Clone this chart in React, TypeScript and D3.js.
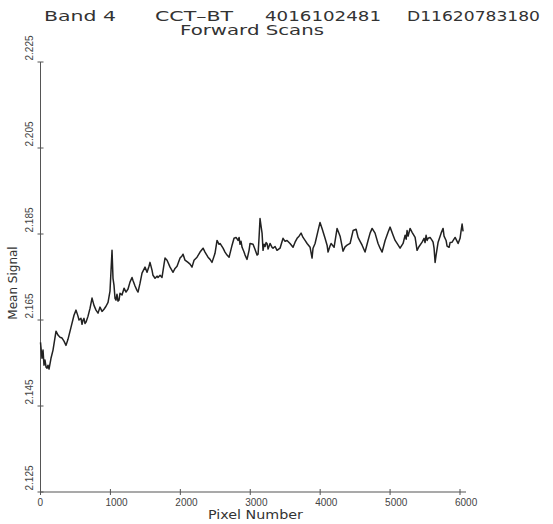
import React from 'react';
import * as d3 from 'd3';

const pixelNumber = [
  0, 21, 36, 50, 64, 80, 93, 107, 122, 150, 179, 222, 250, 279, 308, 336, 365, 393, 436, 479,
  508, 536, 551, 579, 594, 608, 622, 636, 651, 680, 708, 737, 765, 794, 823, 851, 880, 908, 937, 966,
  994, 1009, 1023, 1037, 1051, 1066, 1080, 1094, 1108, 1123, 1137, 1152, 1166, 1195, 1223, 1252, 1280, 1309, 1323, 1352,
  1380, 1395, 1423, 1452, 1495, 1524, 1552, 1566, 1595, 1609, 1638, 1667, 1681, 1710, 1738, 1767, 1781, 1810, 1853, 1896,
  1924, 1953, 1996, 2024, 2039, 2067, 2110, 2139, 2167, 2196, 2239, 2282, 2325, 2353, 2396, 2425, 2453, 2496, 2525, 2554,
  2568, 2611, 2639, 2668, 2697, 2740, 2768, 2797, 2825, 2840, 2854, 2868, 2883, 2911, 2926, 2954, 2983, 2997, 3040, 3069,
  3097, 3112, 3126, 3140, 3155, 3169, 3183, 3198, 3212, 3226, 3240, 3255, 3283, 3312, 3326, 3355, 3383, 3426, 3469, 3498,
  3526, 3569, 3612, 3641, 3670, 3698, 3727, 3755, 3784, 3813, 3856, 3884, 3898, 3927, 3970, 3998, 4027, 4070, 4099, 4113,
  4141, 4156, 4199, 4242, 4285, 4327, 4356, 4385, 4428, 4471, 4514, 4542, 4571, 4600, 4642, 4685, 4714, 4743, 4785, 4828,
  4857, 4886, 4929, 4971, 5000, 5043, 5072, 5100, 5143, 5186, 5215, 5230, 5243, 5258, 5272, 5286, 5315, 5358, 5386, 5415,
  5458, 5486, 5500, 5515, 5530, 5544, 5572, 5601, 5615, 5629, 5644, 5658, 5687, 5730, 5758, 5772, 5801, 5815, 5844, 5858,
  5887, 5930, 5973, 6001, 6016, 6030, 6044,
];

const meanSignal = [
  2.1598, 2.1561, 2.1580, 2.1545, 2.1557, 2.1540, 2.1538, 2.1545, 2.1536, 2.1561, 2.1580, 2.1624, 2.1615, 2.1610, 2.1608, 2.1601, 2.1591, 2.1605, 2.1633, 2.1661,
  2.1673, 2.1659, 2.1650, 2.1654, 2.1640, 2.1650, 2.1654, 2.1642, 2.1645, 2.1659, 2.1677, 2.1701, 2.1684, 2.1673, 2.1666, 2.1680, 2.1670, 2.1675, 2.1682, 2.1691,
  2.1717, 2.1766, 2.1812, 2.1747, 2.1731, 2.1700, 2.1696, 2.1710, 2.1694, 2.1696, 2.1712, 2.1710, 2.1708, 2.1724, 2.1715, 2.1722, 2.1738, 2.1749, 2.1742, 2.1729,
  2.1719, 2.1715, 2.1735, 2.1759, 2.1773, 2.1761, 2.1775, 2.1784, 2.1766, 2.1754, 2.1747, 2.1752, 2.1749, 2.1754, 2.1749, 2.1780, 2.1794, 2.1789, 2.1773, 2.1761,
  2.1770, 2.1775, 2.1794, 2.1799, 2.1803, 2.1789, 2.1784, 2.1780, 2.1773, 2.1789, 2.1796, 2.1808, 2.1817, 2.1808, 2.1796, 2.1791, 2.1784, 2.1805, 2.1835, 2.1826,
  2.1828, 2.1817, 2.1808, 2.1801, 2.1796, 2.1824, 2.1840, 2.1842, 2.1835, 2.1842, 2.1826, 2.1833, 2.1819, 2.1808, 2.1801, 2.1791, 2.1812, 2.1828, 2.1826, 2.1814,
  2.1801, 2.1803, 2.1842, 2.1886, 2.1868, 2.1852, 2.1812, 2.1826, 2.1821, 2.1830, 2.1828, 2.1815, 2.1828, 2.1819, 2.1817, 2.1821, 2.1812, 2.1817, 2.1840, 2.1833,
  2.1835, 2.1828, 2.1819, 2.1831, 2.1840, 2.1845, 2.1852, 2.1842, 2.1835, 2.1828, 2.1819, 2.1794, 2.1817, 2.1828, 2.1858, 2.1877, 2.1863, 2.1840, 2.1824, 2.1808,
  2.1822, 2.1828, 2.1819, 2.1863, 2.1845, 2.1810, 2.1820, 2.1824, 2.1828, 2.1858, 2.1861, 2.1842, 2.1833, 2.1824, 2.1808, 2.1835, 2.1852, 2.1863, 2.1852, 2.1828,
  2.1817, 2.1808, 2.1835, 2.1854, 2.1866, 2.1847, 2.1835, 2.1828, 2.1817, 2.1828, 2.1847, 2.1838, 2.1858, 2.1845, 2.1854, 2.1863, 2.1854, 2.1842, 2.1812, 2.1821,
  2.1831, 2.1840, 2.1830, 2.1847, 2.1835, 2.1840, 2.1842, 2.1835, 2.1831, 2.1817, 2.1784, 2.1801, 2.1831, 2.1852, 2.1863, 2.1845, 2.1835, 2.1822, 2.1819, 2.1830,
  2.1831, 2.1842, 2.1828, 2.1840, 2.1858, 2.1873, 2.1856,
];

const xTickValues = [0, 1000, 2000, 3000, 4000, 5000, 6000];
const xTickLabels = ['0', '1000', '2000', '3000', '4000', '5000', '6000'];
const yTickValues = [2.125, 2.145, 2.165, 2.185, 2.205, 2.225];
const yTickLabels = ['2.125', '2.145', '2.165', '2.185', '2.205', '2.225'];
const titleWords = ['Band 4', 'CCT–BT', '4016102481', 'D11620783180'];
const subtitle = 'Forward Scans';
const xTitle = 'Pixel Number';
const yTitle = 'Mean Signal';

export default function App() {
  const W = 553;
  const H = 524;
  const x = d3.scaleLinear().domain([0, 6000]).range([40.5, 460]);
  const y = d3.scaleLinear().domain([2.125, 2.225]).range([492, 62]);
  const data = pixelNumber.map((p, i) => [p, meanSignal[i]] as [number, number]);
  const line = d3
    .line<[number, number]>()
    .x((d) => x(d[0]))
    .y((d) => y(d[1]));

  const ink = '#333';
  const axisInk = '#555';
  const font = "'DejaVu Sans', sans-serif";
  const tickFont = "'Liberation Sans', Arial, sans-serif";

  const titleX = [44, 155, 265, 407];
  const titleLen = [72, 78, 116, 133];

  return (
    <svg
      width={W}
      height={H}
      style={{ position: 'absolute', left: 0, top: 0, background: '#fff' }}
    >
      <rect width={W} height={H} fill="#fff" />
      {titleWords.map((t, i) => (
        <text
          key={t}
          x={titleX[i]}
          y={21}
          fontFamily={font}
          fontSize={13.5}
          fill={ink}
          textLength={titleLen[i]}
          lengthAdjust="spacingAndGlyphs"
        >
          {t}
        </text>
      ))}
      <text
        x={180}
        y={35}
        fontFamily={font}
        fontSize={13.5}
        fill={ink}
        textLength={144}
        lengthAdjust="spacingAndGlyphs"
      >
        {subtitle}
      </text>

      {/* axes */}
      <line x1={x(0)} x2={x(0)} y1={y(2.225)} y2={y(2.125)} stroke={axisInk} strokeWidth={1} />
      <line x1={x(0)} x2={x(6000) + 6} y1={y(2.125)} y2={y(2.125)} stroke={axisInk} strokeWidth={1.2} />

      {yTickValues.map((v, i) => (
        <g key={'y' + v}>
          <line x1={x(0) - 3} x2={x(0) + 3} y1={y(v)} y2={y(v)} stroke={axisInk} strokeWidth={1} />
          <text
            transform={`translate(33,${y(v) - 14}) rotate(-90)`}
            textAnchor="middle"
            fontFamily={tickFont}
            fontSize={10}
            fill="#444"
          >
            {yTickLabels[i]}
          </text>
        </g>
      ))}
      {xTickValues.map((v, i) => (
        <g key={'x' + v}>
          <line x1={x(v)} x2={x(v)} y1={y(2.125) - 3} y2={y(2.125) + 3} stroke={axisInk} strokeWidth={1} />
          <text
            x={x(v) - (i === 0 ? 3 : 5)}
            y={506}
            fontFamily={tickFont}
            fontSize={10}
            fill="#444"
          >
            {xTickLabels[i]}
          </text>
        </g>
      ))}

      <text
        x={208}
        y={519}
        fontFamily={font}
        fontSize={12.5}
        fill={ink}
        textLength={95}
        lengthAdjust="spacingAndGlyphs"
      >
        {xTitle}
      </text>
      <text
        transform={`translate(17,283) rotate(-90)`}
        textAnchor="middle"
        fontFamily={font}
        fontSize={12}
        fill={ink}
      >
        {yTitle}
      </text>

      <path d={line(data) || ''} fill="none" stroke="#222" strokeWidth={1.5} strokeLinejoin="round" />
    </svg>
  );
}
